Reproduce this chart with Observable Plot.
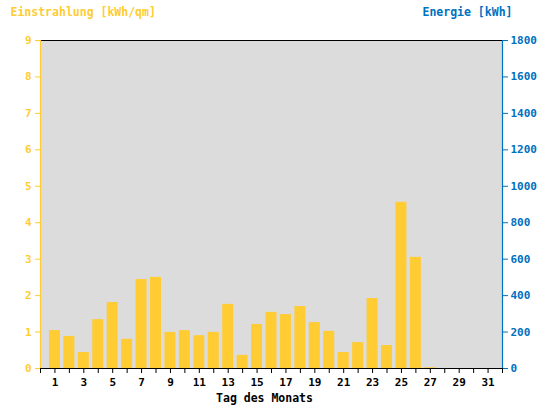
<!DOCTYPE html>
<html><head><meta charset="utf-8">
<script src="https://cdn.jsdelivr.net/npm/d3@7"></script>
<script src="https://cdn.jsdelivr.net/npm/@observablehq/plot@0.6"></script>
<style>body{margin:0;background:#fff}</style>
</head><body><div id="chart"></div>
<script>
const days = [1,2,3,4,5,6,7,8,9,10,11,12,13,14,15,16,17,18,19,20,21,22,23,24,25,26,27,28,29,30,31];
const irradiance = [1.04,0.88,0.44,1.34,1.81,0.80,2.44,2.50,0.99,1.04,0.90,0.99,1.76,0.36,1.21,1.54,1.48,1.70,1.26,1.02,0.44,0.71,1.92,0.63,4.56,3.05,0.02,0,0,0,0];
const leftTicks = [0,1,2,3,4,5,6,7,8,9];
const energyTicks = [0,200,400,600,800,1000,1200,1400,1600,1800];
const energyPerUnit = 200;
const xTickPositions = [0,1,2,3,4,5,6,7,8,9,10,11,12,13,14,15,16,17,18,19,20,21,22,23,24,25,26,27,28,29,30,31,32];
const xTickLabels = [1,3,5,7,9,11,13,15,17,19,21,23,25,27,29,31];
const leftTitle = "Einstrahlung [kWh/qm]";
const rightTitle = "Energie [kWh]";
const xTitle = "Tag des Monats";

const yellow = "#ffcc33";
const blue = "#0070c0";
const data = days.map((d, i) => ({day: d, value: irradiance[i]}));

const chart = Plot.plot({
  width: 544, height: 408,
  marginTop: 40, marginLeft: 40, marginRight: 42, marginBottom: 40,
  style: {fontFamily: "DejaVu Sans Mono", fontWeight: "bold", fontSize: "11px", background: "#fff"},
  x: {type: "linear", domain: [0, 32], axis: null},
  y: {domain: [0, 9], axis: null},
  marks: [
    Plot.frame({fill: "#dcdcdc", stroke: null}),
    Plot.rectY(data, {x1: d => d.day - 0.38, x2: d => d.day + 0.38, y: "value", fill: yellow}),
    Plot.ruleY([9], {stroke: "black", strokeWidth: 1.2}),
    Plot.ruleY([0], {stroke: "black", strokeWidth: 1.2}),
    Plot.ruleX([0], {stroke: yellow, strokeWidth: 1.2}),
    Plot.ruleX([32], {stroke: blue, strokeWidth: 1.2}),
    Plot.axisY(leftTicks, {anchor: "left", label: null, color: yellow, tickSize: 5, tickPadding: 4, tickFormat: d => String(d)}),
    Plot.axisY(energyTicks.map(v => v / energyPerUnit), {anchor: "right", label: null, color: blue, tickSize: 5, tickPadding: 3, tickFormat: d => String(Math.round(d * energyPerUnit))}),
    Plot.axisX(xTickPositions, {anchor: "bottom", label: null, color: "black", tickSize: 5, tickPadding: 5, tickFormat: d => xTickLabels.includes(d) ? String(d) : ""}),
    Plot.text([leftTitle], {text: d => d, frameAnchor: "top-left", dx: -30, dy: -33, textAnchor: "start", fill: yellow, fontSize: 11.5}),
    Plot.text([rightTitle], {text: d => d, frameAnchor: "top-right", dx: 10, dy: -33, textAnchor: "end", fill: blue, fontSize: 11.5}),
    Plot.text([xTitle], {text: d => d, frameAnchor: "bottom", dx: -7, dy: 33, fill: "black", fontSize: 11.5})
  ]
});
document.getElementById("chart").append(chart);
</script>
</body></html>
